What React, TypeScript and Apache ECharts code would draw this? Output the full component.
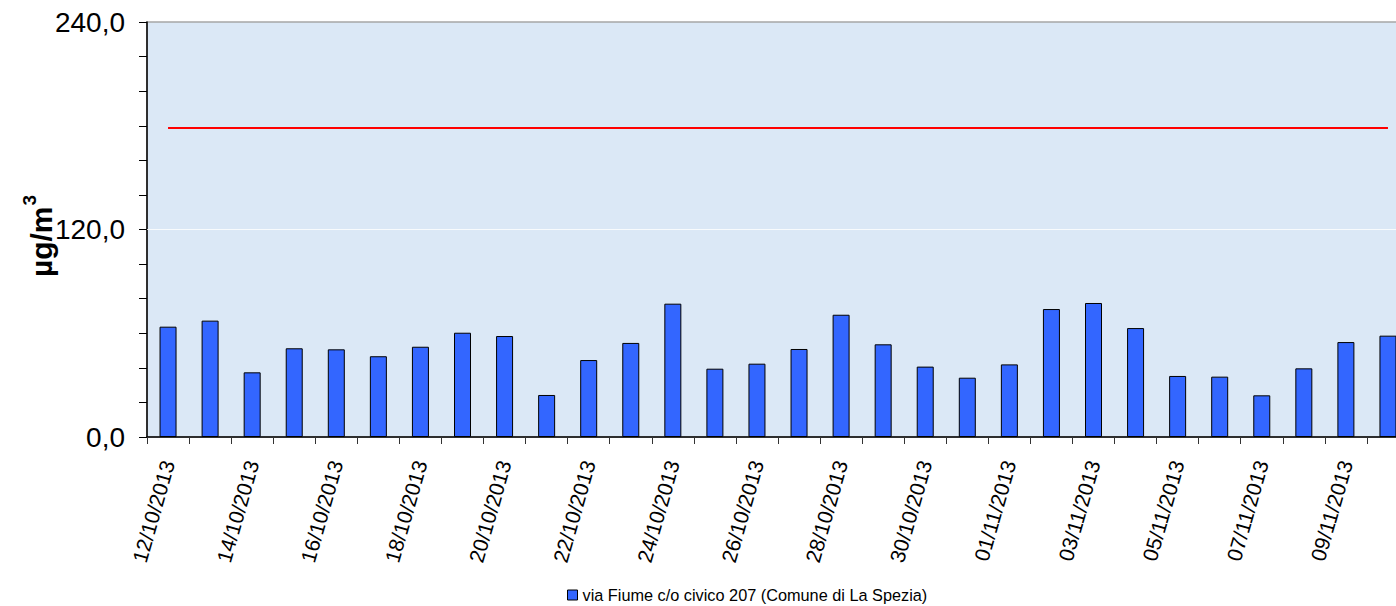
import React, { useEffect, useRef } from "react";
import * as echarts from "echarts";

const dates = [
  "12/10/2013", "13/10/2013", "14/10/2013", "15/10/2013", "16/10/2013",
  "17/10/2013", "18/10/2013", "19/10/2013", "20/10/2013", "21/10/2013",
  "22/10/2013", "23/10/2013", "24/10/2013", "25/10/2013", "26/10/2013",
  "27/10/2013", "28/10/2013", "29/10/2013", "30/10/2013", "31/10/2013",
  "01/11/2013", "02/11/2013", "03/11/2013", "04/11/2013", "05/11/2013",
  "06/11/2013", "07/11/2013", "08/11/2013", "09/11/2013", "10/11/2013",
];

const values = [
  63.8, 67.3, 37.4, 51.3, 50.7, 46.7, 52.2, 60.3, 58.4, 24.3,
  44.5, 54.4, 77.1, 39.5, 42.4, 50.9, 70.7, 53.6, 40.7, 34.3,
  42.0, 74.0, 77.5, 63.0, 35.3, 34.9, 24.1, 39.7, 54.9, 58.6,
];

const seriesName = "via Fiume c/o civico 207 (Comune di La Spezia)";
const limitValue = 179;
const gridLineValue = 120;
const yMin = 0;
const yMax = 240;
const yInterval = 120;

const FONT = "'Liberation Sans', Arial, sans-serif";

export default function App() {
  const ref = useRef<HTMLDivElement>(null);

  useEffect(() => {
    if (!ref.current) return;
    const chart = echarts.init(ref.current, null, { renderer: "svg" });
    chart.setOption({
      animation: false,
      textStyle: { fontFamily: FONT },
      grid: {
        left: 147,
        top: 22,
        width: 1262,
        height: 415,
        show: true,
        backgroundColor: "#dbe8f6",
        borderColor: "#a6a6a6",
        borderWidth: 1.5,
      },
      legend: {
        show: true,
        left: 567,
        top: 587,
        padding: 0,
        itemWidth: 10,
        itemHeight: 10,
        icon: "rect",
        textStyle: { fontSize: 16.3, color: "#000", fontFamily: FONT },
        data: [
          {
            name: seriesName,
            itemStyle: { color: "#3366ff", borderColor: "#000", borderWidth: 1 },
          },
        ],
      },
      xAxis: {
        type: "category",
        data: dates,
        boundaryGap: true,
        axisLine: { show: true, lineStyle: { color: "#000", width: 1.5 } },
        axisTick: { show: true, interval: 0, length: 7, lineStyle: { color: "#333" } },
        axisLabel: {
          interval: 1,
          rotate: 74,
          fontSize: 21,
          margin: 24,
          color: "#000",
          fontFamily: FONT,
        },
        splitLine: { show: false },
      },
      yAxis: {
        type: "value",
        min: yMin,
        max: yMax,
        interval: yInterval,
        axisLine: { show: true, lineStyle: { color: "#000", width: 1.5 } },
        axisTick: { show: true, length: 8, lineStyle: { color: "#000" } },
        minorTick: { show: true, splitNumber: 6, length: 8, lineStyle: { color: "#000" } },
        axisLabel: {
          fontSize: 28,
          margin: 22,
          color: "#000",
          fontFamily: FONT,
          formatter: (v: number) => v.toFixed(1).replace(".", ","),
        },
        splitLine: { show: false },
      },
      graphic: [
        {
          type: "text",
          x: 38,
          y: 236,
          rotation: Math.PI / 2,
          style: {
            text: "{a|µg/m}{b|3}",
            fontFamily: FONT,
            fill: "#000",
            textAlign: "center",
            textVerticalAlign: "middle",
            rich: {
              a: { fontSize: 30, fontWeight: "bold", fontFamily: FONT, lineHeight: 36, verticalAlign: "bottom" },
              b: { fontSize: 19, fontWeight: "bold", fontFamily: FONT, lineHeight: 36, verticalAlign: "top", padding: [0, 0, 0, 1] },
            },
          },
        },
      ],
      series: [
        {
          name: seriesName,
          type: "bar",
          data: values,
          barWidth: 17,
          itemStyle: { color: "#3366ff", borderColor: "#000", borderWidth: 1 },
          markLine: {
            silent: true,
            symbol: "none",
            label: { show: false },
            data: [
              [
                { coord: [dates[0], limitValue], lineStyle: { color: "#ff0000", width: 2, type: "solid" } },
                { coord: [dates[dates.length - 1], limitValue] },
              ],
              { yAxis: gridLineValue, lineStyle: { color: "#ffffff", width: 1, type: "solid", opacity: 0.8 } },
            ],
          },
        },
      ],
    });
    return () => chart.dispose();
  }, []);

  return (
    <div style={{ position: "absolute", left: 0, top: 0, width: 1396, height: 606, overflow: "hidden" }}>
      <div ref={ref} style={{ position: "absolute", left: 0, top: 0, width: 1430, height: 606 }} />
    </div>
  );
}
